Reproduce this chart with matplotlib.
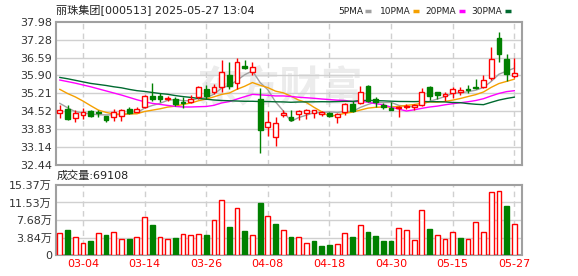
import matplotlib
matplotlib.use("Agg")
import matplotlib.pyplot as plt
from matplotlib.lines import Line2D
import pandas as pd

plt.rcParams['font.family'] = ['DejaVu Sans', 'Noto Sans CJK SC']

# 日期 (02-27 .. 05-27, 60 个交易日)
dates = ['02-27', '02-28', '03-03', '03-04', '03-05', '03-06', '03-07', '03-10', '03-11', '03-12',
         '03-13', '03-14', '03-17', '03-18', '03-19', '03-20', '03-21', '03-24', '03-25', '03-26',
         '03-27', '03-28', '03-31', '04-01', '04-02', '04-03', '04-07', '04-08', '04-09', '04-10',
         '04-11', '04-14', '04-15', '04-16', '04-17', '04-18', '04-21', '04-22', '04-23', '04-24',
         '04-25', '04-28', '04-29', '04-30', '05-06', '05-07', '05-08', '05-09', '05-12', '05-13',
         '05-14', '05-15', '05-16', '05-19', '05-20', '05-21', '05-22', '05-23', '05-26', '05-27']

opens = [34.46, 34.60, 34.24, 34.37, 34.53, 34.48, 34.32, 34.30, 34.35, 34.62,
         34.50, 34.67, 35.11, 35.09, 34.98, 34.98, 34.88, 34.89, 35.08, 35.37,
         35.24, 35.46, 35.91, 35.59, 36.27, 36.04, 34.97, 33.92, 33.54, 34.38,
         34.30, 34.39, 34.43, 34.46, 34.42, 34.45, 34.31, 34.50, 34.78, 34.82,
         35.49, 34.97, 34.77, 34.63, 34.64, 34.67, 34.66, 34.77, 35.46, 35.24,
         35.11, 35.21, 35.27, 35.37, 35.46, 35.46, 35.78, 37.33, 36.52, 35.88]
highs = [34.75, 34.74, 34.56, 34.65, 34.57, 34.57, 34.35, 34.60, 34.60, 34.67,
         34.69, 35.14, 35.60, 35.23, 35.12, 35.08, 35.07, 35.15, 35.49, 35.53,
         35.58, 36.49, 36.43, 36.59, 36.49, 36.40, 35.42, 34.53, 34.30, 34.56,
         34.56, 34.56, 34.62, 34.58, 34.52, 34.48, 34.43, 34.82, 34.91, 35.49,
         35.53, 35.07, 34.84, 34.86, 34.70, 34.80, 34.78, 35.40, 35.49, 35.27,
         35.24, 35.46, 35.46, 35.53, 35.75, 35.91, 37.01, 37.56, 36.71, 36.56]
lows = [34.24, 34.16, 34.11, 34.22, 34.28, 34.28, 34.11, 34.15, 34.15, 34.40,
        34.47, 34.63, 34.90, 34.89, 34.92, 34.72, 34.65, 34.82, 34.98, 34.98,
        35.18, 35.24, 35.37, 35.37, 36.13, 35.91, 32.92, 33.57, 33.18, 34.30,
        34.13, 34.17, 34.21, 34.24, 34.34, 34.30, 34.08, 34.37, 34.47, 34.78,
        34.88, 34.69, 34.60, 34.55, 34.30, 34.62, 34.58, 34.72, 34.95, 34.98,
        34.92, 35.04, 35.14, 35.21, 35.37, 35.42, 35.72, 36.43, 35.69, 35.79]
closes = [34.58, 34.20, 34.45, 34.47, 34.35, 34.43, 34.17, 34.47, 34.56, 34.44,
          34.62, 35.10, 34.97, 34.98, 35.02, 34.78, 34.85, 35.00, 35.44, 35.11,
          35.46, 36.04, 35.50, 36.43, 36.19, 36.21, 33.79, 34.11, 34.08, 34.46,
          34.17, 34.53, 34.58, 34.55, 34.47, 34.34, 34.40, 34.78, 34.52, 35.27,
          34.91, 34.86, 34.68, 34.57, 34.69, 34.72, 34.74, 35.24, 35.10, 35.13,
          35.20, 35.37, 35.32, 35.33, 35.42, 35.74, 36.52, 36.71, 35.94, 35.98]
# 成交量 (万)
volumes = [4.76, 5.49, 3.88, 2.56, 3.07, 4.76, 4.39, 4.98, 3.44, 3.44,
           3.88, 8.27, 6.59, 3.88, 3.44, 3.66, 4.54, 4.32, 4.54, 4.32,
           7.61, 12.00, 6.15, 10.25, 5.27, 4.32, 11.42, 8.49, 6.81, 5.42,
           3.95, 3.88, 2.56, 3.07, 1.98, 2.20, 2.42, 4.76, 3.95, 6.52,
           5.05, 4.17, 3.07, 3.07, 5.86, 5.42, 3.22, 9.81, 5.71, 4.32,
           3.44, 4.98, 3.73, 3.44, 7.17, 4.98, 13.76, 13.98, 10.76, 6.91]

# 窗口开始前的均线值
ma5_head = [34.82, 34.65, 34.50, 34.45]
ma10_head = [35.36, 35.20, 35.07, 34.91, 34.73, 34.56, 34.47, 34.41, 34.40]
ma20_head = [35.72, 35.66, 35.60, 35.53, 35.46, 35.38, 35.30, 35.22, 35.14, 35.05,
             34.96, 34.88, 34.82, 34.78, 34.74, 34.70, 34.68, 34.68, 34.69]
ma30_head = [35.82, 35.77, 35.71, 35.65, 35.59, 35.55, 35.51, 35.46, 35.42, 35.36,
             35.31, 35.28, 35.24, 35.20, 35.17, 35.12, 35.08, 35.05, 35.01, 34.98,
             34.95, 34.93, 34.92, 34.91, 34.90, 34.90, 34.89, 34.89, 34.88]

price_ticks = [32.44, 33.14, 33.83, 34.52, 35.21, 35.90, 36.59, 37.28, 37.98]
vol_ticks = [0, 3.84, 7.68, 11.53, 15.37]
vol_tick_labels = ['0', '3.84万', '7.68万', '11.53万', '15.37万']
label_dates = ['03-04', '03-14', '03-26', '04-08', '04-18', '04-30', '05-15', '05-27']

RED = '#ff0000'
GREEN = '#008000'
GRID = '#d0d0d0'
FRAME = '#a0a0a0'

s = pd.Series(closes)
def moving(n, head):
    m = s.rolling(n).mean().values
    m[:len(head)] = head
    return m

ma_lines = [('5PMA', moving(5, ma5_head), '#a0a0a0'),
            ('10PMA', moving(10, ma10_head), '#f5a000'),
            ('20PMA', moving(20, ma20_head), '#ff00ff'),
            ('30PMA', moving(30, ma30_head), '#006a30')]

W, H = 578, 276
fig = plt.figure(figsize=(W / 100, H / 100), dpi=100)

def fx(px):
    return px / W

def fy(py):
    return 1 - py / H

ax = fig.add_axes([fx(56), fy(165), fx(522) - fx(56), fy(21.5) - fy(165)])
axv = fig.add_axes([fx(56), fy(255), fx(522) - fx(56), fy(185) - fy(255)])

x = list(range(len(dates)))
tick_pos = [dates.index(d) for d in label_dates]

# 水印
ax.text(28.5, 35.40, '东方财富', fontsize=30, color='#ececec', ha='center', va='center',
        fontweight='bold', zorder=0)

# 均线
for name, vals, col in ma_lines:
    ax.plot(x, vals, color=col, lw=1, zorder=2)

# K线
for i in x:
    o, c, hi, lo = opens[i], closes[i], highs[i], lows[i]
    col = RED if c >= o else GREEN
    ax.vlines(i, lo, hi, color=col, lw=1, zorder=3)
    body = max(abs(c - o), 0.008)
    ax.bar(i, body, bottom=min(o, c), width=0.62,
           facecolor='white' if c >= o else GREEN, edgecolor=col, lw=1, zorder=4)

# 成交量: 与前一日收盘比较
for i in x:
    up = i == 0 or closes[i] >= closes[i - 1]
    col = RED if up else GREEN
    axv.bar(i, volumes[i], width=0.62, facecolor='white' if up else GREEN,
            edgecolor=col, lw=1, zorder=3)

for a in (ax, axv):
    a.set_xlim(-0.5, 60.0)
    for t in tick_pos:
        a.axvline(t, color=GRID, ls=(0, (4, 3)), lw=1, zorder=1)
    for sp in a.spines.values():
        sp.set_color(FRAME)
        sp.set_linewidth(1.5)
    a.tick_params(length=0, labelsize=8, colors='#333333', pad=3)

ax.set_ylim(price_ticks[0], price_ticks[-1])
ax.set_yticks(price_ticks)
ax.set_yticklabels(['%.2f' % v for v in price_ticks])
ax.set_xticks([])
for v in price_ticks[1:-1]:
    ax.axhline(v, color=GRID, lw=1, zorder=1)

axv.set_ylim(0, vol_ticks[-1])
axv.set_yticks(vol_ticks)
axv.set_yticklabels(vol_tick_labels)
axv.set_xticks(tick_pos)
axv.set_xticklabels(label_dates, color=RED)
for v in vol_ticks[1:-1]:
    axv.axhline(v, color=GRID, lw=1, zorder=1)

# 标题和图例
fig.text(fx(56), fy(11), '丽珠集团[000513] 2025-05-27 13:04', fontsize=8,
         color='#222222', va='center', ha='left')
legend_x = [(338, 365), (380, 413), (425, 459), (471, 505)]
for (name, vals, col), (px, dx) in zip(ma_lines, legend_x):
    fig.text(fx(px), fy(11), name, fontsize=6.5, color='#222222', va='center', ha='left')
    fig.add_artist(Line2D([fx(dx), fx(dx + 6)], [fy(11), fy(11)],
                          color=col, lw=2.5, solid_capstyle='butt'))
fig.text(fx(57), fy(176), '成交量:%d' % 69108, fontsize=8, color='#222222',
         va='center', ha='left')

fig.savefig('out.png', dpi=100)
